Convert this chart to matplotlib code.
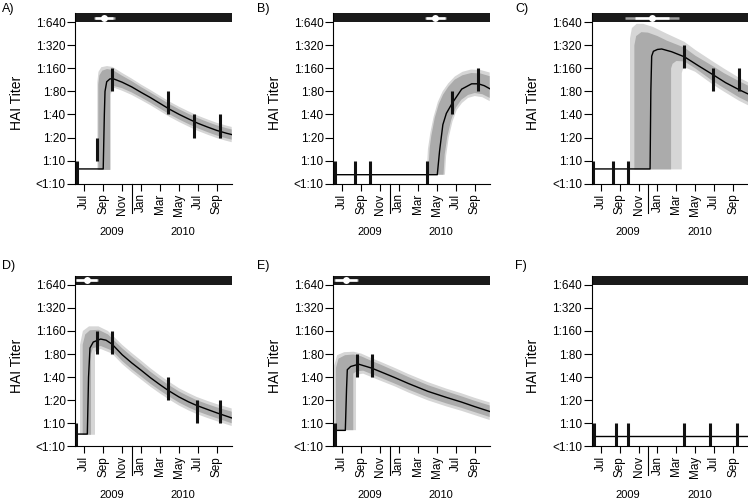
import matplotlib
matplotlib.use('Agg')
import matplotlib.pyplot as plt

plt.rcParams['font.family'] = ['Liberation Sans', 'DejaVu Sans']

# y is titer level: 0 = <1:10, 1 = 1:10, ... 7 = 1:640
# x is months since 1 Jul 2009
TITER_LABELS = ['<1:10', '1:10', '1:20', '1:40', '1:80', '1:160', '1:320', '1:640']
MONTH_POS = [0, 2, 4, 6, 8, 10, 12, 14]
MONTH_LABELS = ['Jul', 'Sep', 'Nov', 'Jan', 'Mar', 'May', 'Jul', 'Sep']
YEAR_POS = [2.9, 10.45]
YEAR_LABELS = ['2009', '2010']
YEAR_BREAK = 5.0
XLIM = (-0.95, 15.58)

DARK = '#ababab'
LIGHT = '#d6d6d6'

# ---------- A ----------
A_obs_x = [-0.80, 1.31, 2.93, 8.88, 11.63, 14.34]
A_obs_lo = [0, 1, 4, 3, 2, 2]
A_line = [(-0.95, 0.64), (2.0, 0.64), (2.12, 3.0), (2.19, 4.0), (2.37, 4.42), (2.7, 4.54),
          (3.0, 4.56), (4, 4.40), (5, 4.20), (6, 3.96), (7, 3.73), (8, 3.48), (9, 3.23),
          (10, 3.01), (11, 2.81), (12, 2.62), (13, 2.46), (14, 2.31), (15, 2.19), (15.58, 2.13)]
A_in_top = [(1.48, 0.6), (1.48, 4.3), (1.6, 4.7), (1.9, 4.9), (2.4, 4.97), (3.0, 4.93), (4, 4.68),
            (5, 4.45), (6, 4.19), (7, 3.95), (8, 3.70), (9, 3.45), (10, 3.23), (11, 3.03),
            (12, 2.84), (13, 2.68), (14, 2.53), (15, 2.41), (15.58, 2.35)]
A_in_bot = [(1.48, 0.6), (2.72, 0.6), (2.72, 3.9), (2.85, 4.15), (3.0, 4.25), (4, 4.14), (5, 3.96),
            (6, 3.74), (7, 3.51), (8, 3.26), (9, 3.01), (10, 2.79), (11, 2.59), (12, 2.40),
            (13, 2.24), (14, 2.09), (15, 1.97), (15.58, 1.91)]
A_out_top = [(1.38, 0.6), (1.38, 4.4), (1.5, 4.85), (1.8, 5.05), (2.4, 5.1), (3.0, 5.06), (4, 4.8),
             (5, 4.56), (6, 4.30), (7, 4.06), (8, 3.81), (9, 3.56), (10, 3.34), (11, 3.14),
             (12, 2.95), (13, 2.79), (14, 2.64), (15, 2.52), (15.58, 2.46)]
A_out_bot = [(1.38, 0.6), (2.8, 0.6), (2.8, 3.85), (2.95, 4.1), (3.2, 4.15), (4, 4.03), (5, 3.85),
             (6, 3.63), (7, 3.40), (8, 3.15), (9, 2.90), (10, 2.68), (11, 2.48), (12, 2.29),
             (13, 2.13), (14, 1.98), (15, 1.86), (15.58, 1.80)]
A_inf = [2.08, 1.13, 3.07, 1.0, 3.2]   # estimate, 50% CI, 95% CI

# ---------- B ----------
B_obs_x = [-0.80, 1.31, 2.89, 8.92, 11.63, 14.38]
B_obs_lo = [0, 0, 0, 0, 3, 4]
B_line = [(-0.95, 0.39), (10.04, 0.39), (10.28, 1.41), (10.63, 2.56), (11.0, 3.05), (11.63, 3.5),
          (12.62, 4.1), (13.67, 4.33), (14.38, 4.33), (15.0, 4.25), (15.58, 4.12)]
B_in_top = [(9.06, 0.39), (9.24, 1.55), (9.4, 2.05), (9.77, 2.85), (10.2, 3.45), (10.65, 3.86),
            (11.2, 4.2), (11.88, 4.51), (12.7, 4.7), (13.64, 4.8), (14.6, 4.78), (15.58, 4.66)]
B_in_bot = [(9.06, 0.39), (10.7, 0.39), (10.82, 1.26), (11.1, 2.05), (11.52, 2.78), (12.0, 3.3),
            (12.58, 3.64), (13.3, 3.85), (14.0, 3.93), (14.8, 3.88), (15.58, 3.72)]
B_out_top = [(8.9, 0.39), (9.05, 1.5), (9.3, 2.2), (9.65, 2.9), (10.1, 3.55), (10.6, 4.0),
             (11.2, 4.35), (11.9, 4.65), (12.7, 4.85), (13.6, 4.95), (14.6, 4.93), (15.58, 4.82)]
B_out_bot = [(8.9, 0.39), (10.85, 0.39), (10.97, 1.2), (11.25, 2.0), (11.65, 2.7), (12.1, 3.2),
             (12.65, 3.5), (13.3, 3.72), (14.0, 3.8), (14.8, 3.75), (15.58, 3.58)]
B_inf = [9.83, 8.82, 10.89, 8.7, 11.0]

# ---------- C ----------
C_obs_x = [-0.78, 1.33, 2.92, 8.85, 11.85, 14.6]
C_obs_lo = [0, 0, 0, 5, 4, 4]
C_line = [(-0.95, 0.64), (5.22, 0.64), (5.3, 4.0), (5.39, 5.53), (5.57, 5.74), (6.0, 5.82),
          (6.45, 5.84), (7.5, 5.72), (8.85, 5.5), (10.3, 5.12), (11.85, 4.73), (13.2, 4.38),
          (14.6, 4.08), (15.58, 3.89)]
C_in_top = [(3.56, 0.62), (3.56, 6.0), (3.75, 6.4), (4.3, 6.57), (5.0, 6.55), (6.0, 6.4),
            (7.0, 6.2), (8.85, 5.9), (10, 5.55), (11.85, 5.1), (13, 4.8), (14.6, 4.45), (15.58, 4.25)]
C_in_bot = [(3.56, 0.62), (7.44, 0.62), (7.44, 5.0), (7.6, 5.2), (8.0, 5.32), (8.85, 5.3),
            (10, 5.0), (11.85, 4.45), (13, 4.15), (14.6, 3.75), (15.58, 3.55)]
C_out_top = [(3.1, 0.62), (3.1, 6.3), (3.3, 6.75), (3.8, 6.93), (4.5, 6.93), (5.5, 6.8),
             (7.0, 6.5), (8.85, 6.15), (10, 5.8), (11.85, 5.3), (13, 5.0), (14.6, 4.6), (15.58, 4.4)]
C_out_bot = [(3.1, 0.62), (8.57, 0.62), (8.57, 4.8), (8.7, 4.98), (8.85, 5.05), (10, 4.85),
             (11.85, 4.3), (13, 4.0), (14.6, 3.6), (15.58, 3.4)]
C_inf = [5.4, 3.6, 7.25, 2.55, 8.25]

# ---------- D ----------
D_obs_x = [-0.85, 1.31, 2.93, 8.88, 11.88, 14.34]
D_obs_lo = [0, 4, 4, 2, 1, 1]
D_line = [(-0.95, 0.53), (0.32, 0.53), (0.45, 3.0), (0.6, 4.26), (0.95, 4.52), (1.73, 4.65),
          (2.3, 4.6), (2.93, 4.43), (4, 3.97), (5, 3.62), (6, 3.30), (7, 2.97), (8, 2.67),
          (8.88, 2.42), (10, 2.14), (11, 1.93), (11.88, 1.77), (13, 1.60), (14, 1.45),
          (15.58, 1.23)]
D_in_top = [(-0.17, 0.5), (-0.17, 4.4), (0.1, 4.85), (0.6, 5.03), (1.5, 5.05), (2.5, 4.85),
            (4, 4.25), (5, 3.90), (6, 3.57), (7, 3.23), (8, 2.92), (8.88, 2.67), (10, 2.38),
            (11, 2.17), (11.88, 2.0), (13, 1.83), (14, 1.69), (15.58, 1.5)]
D_in_bot = [(-0.17, 0.5), (0.71, 0.5), (0.71, 4.0), (0.9, 4.25), (1.73, 4.35), (2.93, 4.15),
            (4, 3.70), (5, 3.35), (6, 3.03), (7, 2.71), (8, 2.42), (8.88, 2.18), (10, 1.90),
            (11, 1.69), (11.88, 1.53), (13, 1.36), (14, 1.22), (15.58, 1.0)]
D_out_top = [(-0.45, 0.5), (-0.45, 4.4), (-0.15, 5.0), (0.5, 5.2), (1.5, 5.2), (2.5, 5.0),
             (4, 4.40), (5, 4.05), (6, 3.72), (7, 3.38), (8, 3.07), (8.88, 2.82), (10, 2.52),
             (11, 2.31), (11.88, 2.14), (13, 1.97), (14, 1.83), (15.58, 1.64)]
D_out_bot = [(-0.45, 0.5), (1.13, 0.5), (1.13, 4.1), (1.73, 4.22), (2.93, 4.02), (4, 3.57),
             (5, 3.22), (6, 2.90), (7, 2.58), (8, 2.29), (8.88, 2.05), (10, 1.77),
             (11, 1.56), (11.88, 1.40), (13, 1.23), (14, 1.09), (15.58, 0.88)]
D_inf = [0.25, -0.85, 1.3, -0.9, 1.4]

# ---------- E ----------
E_obs_x = [-0.80, 1.55, 3.1]
E_obs_lo = [0, 3, 3]
E_line = [(-0.95, 0.69), (0.32, 0.69), (0.45, 2.5), (0.53, 3.32), (0.89, 3.46), (1.73, 3.56),
          (3.1, 3.39), (4, 3.24), (5.54, 2.98), (7, 2.72), (9.06, 2.38), (11, 2.12),
          (12.58, 1.92), (14, 1.72), (15.58, 1.51)]
E_in_top = [(-0.67, 0.7), (-0.67, 3.4), (-0.4, 3.8), (0.3, 3.95), (1.2, 3.98), (2.0, 3.9),
            (3.1, 3.7), (4, 3.55), (5.54, 3.27), (7, 3.0), (9.06, 2.65), (11, 2.38),
            (12.58, 2.17), (14, 1.97), (15.58, 1.77)]
E_in_bot = [(-0.67, 0.7), (1.16, 0.7), (1.16, 3.15), (1.5, 3.25), (2.2, 3.28), (3.1, 3.13),
            (4, 2.98), (5.54, 2.72), (7, 2.46), (9.06, 2.12), (11, 1.86), (12.58, 1.67),
            (14, 1.48), (15.58, 1.27)]
E_out_top = [(-0.85, 0.7), (-0.85, 3.5), (-0.55, 3.95), (0.2, 4.08), (1.2, 4.1), (2.0, 4.02),
             (3.1, 3.82), (4, 3.67), (5.54, 3.4), (7, 3.13), (9.06, 2.78), (11, 2.5),
             (12.58, 2.3), (14, 2.1), (15.58, 1.9)]
E_out_bot = [(-0.85, 0.7), (1.45, 0.7), (1.45, 3.1), (2.2, 3.15), (3.1, 3.0), (4, 2.85),
             (5.54, 2.6), (7, 2.33), (9.06, 1.99), (11, 1.73), (12.58, 1.54), (14, 1.35),
             (15.58, 1.14)]
E_inf = [0.36, -0.77, 1.59, -0.85, 1.7]

# ---------- F ----------
F_obs_x = [-0.71, 1.59, 2.92, 8.85, 11.6, 14.39]
F_obs_lo = [0, 0, 0, 0, 0, 0]
F_line = [(-0.95, 0.46), (15.58, 0.46)]

panels = [
    ('A)', A_obs_x, A_obs_lo, A_line, (A_in_top, A_in_bot), (A_out_top, A_out_bot), A_inf),
    ('B)', B_obs_x, B_obs_lo, B_line, (B_in_top, B_in_bot), (B_out_top, B_out_bot), B_inf),
    ('C)', C_obs_x, C_obs_lo, C_line, (C_in_top, C_in_bot), (C_out_top, C_out_bot), C_inf),
    ('D)', D_obs_x, D_obs_lo, D_line, (D_in_top, D_in_bot), (D_out_top, D_out_bot), D_inf),
    ('E)', E_obs_x, E_obs_lo, E_line, (E_in_top, E_in_bot), (E_out_top, E_out_bot), E_inf),
    ('F)', F_obs_x, F_obs_lo, F_line, None, None, None),
]

W, H = 748, 501
col_left = [75.3, 333.3, 591.7]
row_bottom = [183.7, 446.3]
ax_w, ax_h = 156.4, 170.7
label_x = [2, 257, 515]
label_top = [3, 260]


def band(ax, edges, color):
    top, bot = edges
    pts = list(top) + list(reversed(bot))
    xs, ys = zip(*pts)
    ax.fill(xs, ys, color=color, lw=0, zorder=1)


fig = plt.figure(figsize=(W / 100, H / 100), dpi=100)
for i, (lab, obs_x, obs_lo, line, inner, outer, inf) in enumerate(panels):
    r, c = divmod(i, 3)
    ax = fig.add_axes([col_left[c] / W, (H - row_bottom[r]) / H, ax_w / W, ax_h / H])
    ax.set_xlim(*XLIM)
    ax.set_ylim(0, 7.4)

    if outer:
        band(ax, outer, LIGHT)
    if inner:
        band(ax, inner, DARK)
    lx, ly = zip(*line)
    ax.plot(lx, ly, color='black', lw=1.0, zorder=3)
    ax.vlines(obs_x, obs_lo, [v + 1 for v in obs_lo], color='#111111', lw=2.2, zorder=4)

    # infection time bar on top
    ax.axhspan(7.0, 7.4, color='#1a1a1a', lw=0, zorder=5)
    if inf:
        ax.plot([inf[3], inf[4]], [7.2, 7.2], color='#a0a0a0', lw=1.8,
                solid_capstyle='butt', zorder=6)
        ax.plot([inf[1], inf[2]], [7.2, 7.2], color='white', lw=1.8,
                solid_capstyle='butt', zorder=7)
        ax.plot([inf[0]], [7.2], 'o', color='white', ms=5, mew=0, zorder=8)

    for s in ['top', 'right']:
        ax.spines[s].set_visible(False)
    for s in ['left', 'bottom']:
        ax.spines[s].set_linewidth(0.8)
        ax.spines[s].set_zorder(6)

    ax.set_yticks(range(8))
    ax.set_yticklabels(TITER_LABELS, fontsize=8.5)
    ax.set_xticks(MONTH_POS)
    ax.set_xticklabels(MONTH_LABELS, rotation=90, fontsize=8.5)
    ax.tick_params(axis='y', length=5.5, width=0.8, pad=1.5)
    ax.tick_params(axis='x', length=5, width=0.8, pad=2)

    ax.plot([YEAR_BREAK, YEAR_BREAK], [0, -0.17], transform=ax.get_xaxis_transform(),
            color='black', lw=0.8, clip_on=False)
    for yp, yl in zip(YEAR_POS, YEAR_LABELS):
        ax.text(yp, -0.283, yl, transform=ax.get_xaxis_transform(),
                ha='center', va='center', fontsize=8)

    ax.set_ylabel('HAI Titer', fontsize=10, va='center')
    ax.yaxis.set_label_coords(-0.375, 3.5 / 7.4)

    fig.text(label_x[c] / W, 1 - label_top[r] / H, lab, ha='left', va='top', fontsize=9)

plt.savefig('out.png', dpi=100)
